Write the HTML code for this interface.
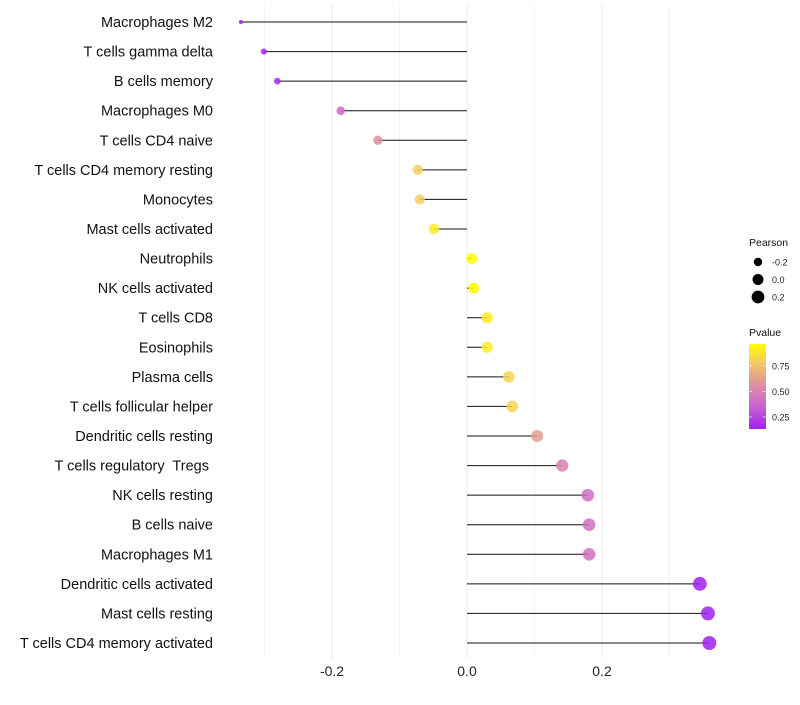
<!DOCTYPE html>
<html><head><meta charset="utf-8"><style>
body{margin:0;background:#fff;font-family:"Liberation Sans",sans-serif;}
svg text{font-family:"Liberation Sans",sans-serif;white-space:pre;}
</style></head><body>
<svg id="chart" width="800" height="700"></svg>
<script>
const cells=["Macrophages M2","T cells gamma delta","B cells memory","Macrophages M0","T cells CD4 naive","T cells CD4 memory resting","Monocytes","Mast cells activated","Neutrophils","NK cells activated","T cells CD8","Eosinophils","Plasma cells","T cells follicular helper","Dendritic cells resting","T cells regulatory  Tregs ","NK cells resting","B cells naive","Macrophages M1","Dendritic cells activated","Mast cells resting","T cells CD4 memory activated"];
const pearson=[-0.335,-0.301,-0.281,-0.187,-0.132,-0.073,-0.070,-0.049,0.007,0.010,0.030,0.030,0.062,0.067,0.104,0.141,0.179,0.181,0.181,0.345,0.357,0.359];
const pvalue=[0.14,0.16,0.18,0.40,0.57,0.80,0.80,0.90,0.97,0.96,0.90,0.90,0.82,0.82,0.62,0.50,0.42,0.42,0.42,0.15,0.15,0.15];
const xTicks=[-0.2,0.0,0.2];
const xTickLabels=["-0.2","0.0","0.2"];
const sizeLegend=[-0.2,0.0,0.2];
const pLegendTicks=[0.25,0.50,0.75];

const NS="http://www.w3.org/2000/svg";
const svg=document.getElementById('chart');
function mk(t,a,p){const e=document.createElementNS(NS,t);for(const k in a)e.setAttribute(k,a[k]);(p||svg).appendChild(e);return e;}
const xs=v=>467+v*675;
const ys=i=>22+i*(643-22)/(cells.length-1);
const rs=v=>2+5*Math.sqrt(Math.max(0,(v+0.335)/0.694));
const stops=[[0,[160,32,240]],[0.25,[200,95,210]],[0.5,[220,140,165]],[0.78,[245,200,100]],[1,[255,255,0]]];
function col(p){let t=(p-0.142)/(0.966-0.142);t=Math.max(0,Math.min(1,t));
 for(let i=1;i<stops.length;i++){if(t<=stops[i][0]){const a=stops[i-1],b=stops[i];const f=(t-a[0])/(b[0]-a[0]);
 return 'rgb('+a[1].map((c,j)=>Math.round(c+(b[1][j]-c)*f)).join(',')+')';}}return 'rgb(255,255,0)';}

[-0.3,-0.1,0.1,0.3].forEach(v=>{const g=mk('line',{x1:xs(v),x2:xs(v),y1:5,y2:658,stroke:'#f2f2f2','stroke-width':1});
});
xTicks.forEach((v,i)=>{const g=mk('line',{x1:xs(v),x2:xs(v),y1:5,y2:658,stroke:'#ebebeb','stroke-width':1});

const t=mk('text',{x:xs(v),y:676,'text-anchor':'middle','font-size':14,fill:'#222'});t.textContent=xTickLabels[i];
});

cells.forEach((c,i)=>{const y=ys(i);
 const t=mk('text',{x:213,y:y+5,'text-anchor':'end','font-size':14.5,fill:'#111'});t.textContent=c;
 
 const l=mk('line',{x1:xs(0),x2:xs(pearson[i]),y1:y,y2:y,stroke:'#111','stroke-width':1});
 
 const d=mk('circle',{cx:xs(pearson[i]),cy:y,r:rs(pearson[i]),fill:col(pvalue[i]),'fill-opacity':0.85});
 
});

const lt=mk('text',{x:749,y:246,'font-size':10.5,fill:'#111'});lt.textContent='Pearson';

sizeLegend.forEach((v,i)=>{const y=262+i*17.5;
 const c=mk('circle',{cx:758,cy:y,r:rs(v),fill:'#000'});
 const t=mk('text',{x:772,y:y+3.5,'font-size':9,fill:'#222'});t.textContent=v.toFixed(1);
 });
const pt=mk('text',{x:749,y:336,'font-size':10.5,fill:'#111'});pt.textContent='Pvalue';

const defs=mk('defs',{});const gr=mk('linearGradient',{id:'pg',x1:0,y1:1,x2:0,y2:0},defs);
stops.forEach(s=>mk('stop',{offset:s[0],'stop-color':'rgb('+s[1].join(',')+')'},gr));
const bar=mk('rect',{x:749,y:344,width:17,height:85,fill:'url(#pg)'});

pLegendTicks.forEach(v=>{const y=428-(v-0.142)/(0.966-0.142)*84;
 mk('line',{x1:749,x2:752,y1:y,y2:y,stroke:'#fff','stroke-opacity':0.6});mk('line',{x1:763,x2:766,y1:y,y2:y,stroke:'#fff','stroke-opacity':0.6});
 const t=mk('text',{x:772,y:y+3.5,'font-size':9,fill:'#222'});t.textContent=v.toFixed(2);
 });
</script>
</body></html>
